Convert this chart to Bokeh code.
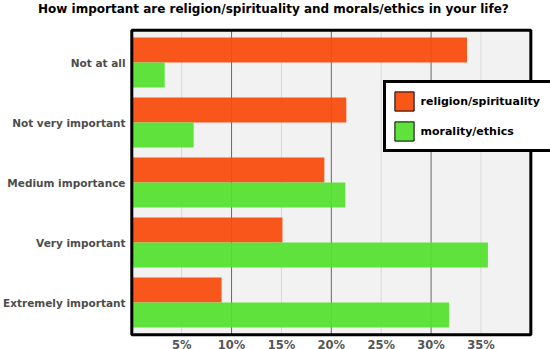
import numpy as np
from bokeh.plotting import figure
from bokeh.models import Range1d, FixedTicker, Legend, LegendItem, Title
from bokeh.embed import file_html
from bokeh.resources import INLINE

# ---- data ----
categories = ["Not at all", "Not very important", "Medium importance",
              "Very important", "Extremely important"]
religion = [33.6, 21.5, 19.3, 15.1, 9.0]
morality = [3.3, 6.2, 21.4, 35.7, 31.8]
series_names = ["religion/spirituality", "morality/ethics"]
x_ticks = [5, 10, 15, 20, 25, 30, 35]
x_tick_labels = ["5%", "10%", "15%", "20%", "25%", "30%", "35%"]
grid_major = [10, 20, 30]
grid_minor = [5, 15, 25, 35]
title_text = "How important are religion/spirituality and morals/ethics in your life?"

# value-axis extent of the plotting box (percent)
X_MIN, X_MAX = 0, 40

FONT = "DejaVu Sans"
ORANGE_BAR, GREEN_BAR = "#F94A0A", "#54E22E"      # drawn with slight transparency
ORANGE_KEY, GREEN_KEY = "#F9561A", "#5FE33C"      # legend swatches (opaque)

# category axis (reversed): frame spans Y_END (top) .. Y_START (bottom)
Y_START, Y_END = 4.783, -0.567
AXIS_Y = 4.567          # where the value axis sits
y_top, y_bot = -0.538, 4.537   # plotting box edges

p = figure(width=550, height=349, output_backend="svg", toolbar_location=None,
           x_range=Range1d(-0.13, 41.97), y_range=Range1d(Y_START, Y_END),
           min_border_left=129, min_border_right=0, min_border_top=28,
           min_border_bottom=0,
           background_fill_color="white", border_fill_color="white",
           outline_line_color=None)

idx = np.arange(len(categories))
bar_h = 25 / 60

# gray plotting box
p.quad(left=X_MIN, right=X_MAX, top=y_top, bottom=y_bot,
       fill_color="#F2F2F2", line_color=None, level="image")

# grid lines, limited to the plotting box
p.segment(x0=grid_minor, x1=grid_minor, y0=[y_top] * len(grid_minor),
          y1=[y_bot] * len(grid_minor), line_color="#D8D8D8", line_width=1,
          level="underlay")
p.segment(x0=grid_major, x1=grid_major, y0=[y_top] * len(grid_major),
          y1=[y_bot] * len(grid_major), line_color="#666666", line_width=1,
          level="underlay")

p.hbar(y=idx - bar_h / 2, left=0, right=religion, height=bar_h,
       fill_color=ORANGE_BAR, fill_alpha=0.93, line_color=None)
p.hbar(y=idx + bar_h / 2, left=0, right=morality, height=bar_h,
       fill_color=GREEN_BAR, fill_alpha=0.93, line_color=None)

# black box outline (above bars)
p.quad(left=X_MIN, right=X_MAX, top=y_top, bottom=y_bot,
       fill_color=None, line_color="black", line_width=3, level="guide")

# axes
xa = p.xaxis[0]
xa.fixed_location = AXIS_Y
xa.ticker = FixedTicker(ticks=x_ticks)
xa.major_label_overrides = {t: l for t, l in zip(x_ticks, x_tick_labels)}
xa.major_tick_line_color = None
xa.minor_tick_line_color = None
xa.major_tick_out = 0
xa.major_tick_in = 0
xa.minor_tick_out = 0
xa.axis_line_color = None
xa.major_label_standoff = 1
xa.major_label_text_font = FONT
xa.major_label_text_font_style = "bold"
xa.major_label_text_font_size = "11.5px"
xa.major_label_text_color = "#555555"

ya = p.yaxis[0]
ya.ticker = FixedTicker(ticks=list(idx))
ya.major_label_overrides = {int(i): c for i, c in zip(idx, categories)}
ya.major_tick_line_color = None
ya.minor_tick_line_color = None
ya.major_tick_out = 0
ya.major_tick_in = 0
ya.minor_tick_out = 0
ya.axis_line_color = None
ya.major_label_standoff = 5
ya.major_label_text_font = FONT
ya.major_label_text_font_style = "bold"
ya.major_label_text_font_size = "10.5px"
ya.major_label_text_color = "#4D4D4D"

p.xgrid.visible = False
p.ygrid.visible = False

# legend with outlined swatches
r1 = p.rect(x=[np.nan], y=[np.nan], width=1, height=1,
            fill_color=ORANGE_KEY, line_color="black", line_width=1)
r2 = p.rect(x=[np.nan], y=[np.nan], width=1, height=1,
            fill_color=GREEN_KEY, line_color="black", line_width=1)
legend = Legend(items=[LegendItem(label=series_names[0], renderers=[r1]),
                       LegendItem(label=series_names[1], renderers=[r2])],
                location=(252.5, 197), orientation="vertical",
                border_line_color="black", border_line_width=3,
                border_line_alpha=1,
                background_fill_color="white", background_fill_alpha=1,
                padding=6, spacing=6, margin=0,
                glyph_width=24, glyph_height=24, label_standoff=5,
                label_width=123,
                label_text_font=FONT, label_text_font_style="bold",
                label_text_font_size="11px", label_text_color="black")
p.add_layout(legend)

# spacer between title and plot box, then the title itself
p.add_layout(Title(text=" ", text_font=FONT, text_font_size="8px",
                   standoff=0), "above")
p.add_layout(Title(text=title_text, align="left", offset=-92.5,
                   vertical_align="top",
                   text_font=FONT, text_font_style="bold",
                   text_font_size="12px", text_color="black",
                   standoff=0), "above")

open("out.html", "w").write(file_html(p, INLINE))
